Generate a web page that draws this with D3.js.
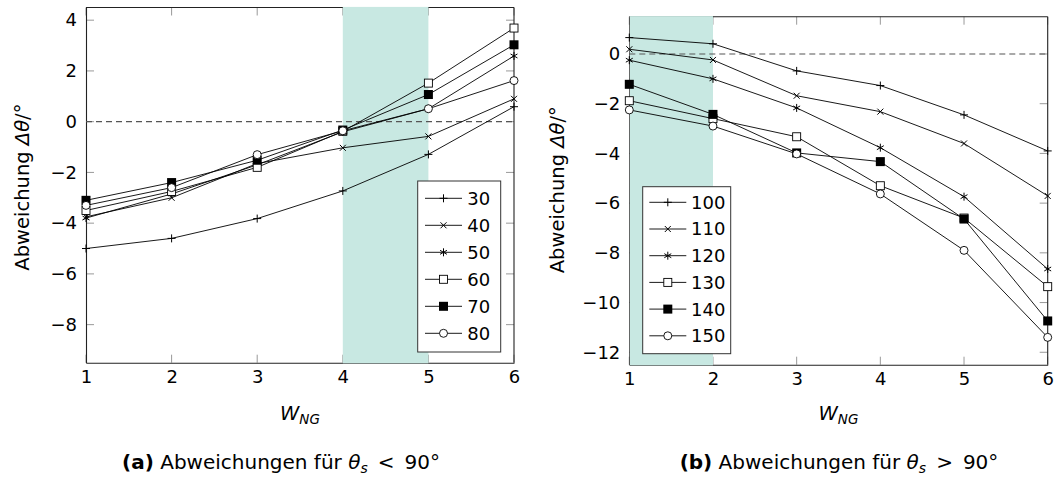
<!DOCTYPE html>
<html><head><meta charset="utf-8">
<script src="https://cdn.jsdelivr.net/npm/d3@7"></script>
<style>
body{margin:0;background:#fff;}
svg text{font-family:"DejaVu Sans",sans-serif;fill:#000;}
</style></head>
<body><svg id="chart" width="1054" height="477"></svg>
<script>
// ---- data ----
const xValues = [1, 2, 3, 4, 5, 6];
const xTicks = [1, 2, 3, 4, 5, 6];
const leftYTicks = [-8, -6, -4, -2, 0, 2, 4];
const rightYTicks = [-12, -10, -8, -6, -4, -2, 0];
const leftNames = ["30", "40", "50", "60", "70", "80"];
const rightNames = ["100", "110", "120", "130", "140", "150"];
const markerTypes = ["plus", "cross", "asterisk", "square", "squareFilled", "circle"];

const left30 = [-5.0, -4.6, -3.82, -2.73, -1.29, 0.59];
const left40 = [-3.75, -3.0, -1.65, -1.03, -0.58, 0.9];
const left50 = [-3.8, -2.85, -1.7, -0.4, 0.51, 2.59];
const left60 = [-3.5, -2.75, -1.8, -0.38, 1.52, 3.69];
const left70 = [-3.1, -2.4, -1.52, -0.33, 1.07, 3.03];
const left80 = [-3.3, -2.6, -1.3, -0.36, 0.51, 1.62];

const right100 = [0.66, 0.41, -0.68, -1.27, -2.45, -3.9];
const right110 = [0.19, -0.24, -1.68, -2.32, -3.6, -5.71];
const right120 = [-0.25, -1.0, -2.17, -3.77, -5.74, -8.65];
const right130 = [-1.88, -2.6, -3.33, -5.3, -6.6, -9.36];
const right140 = [-1.22, -2.43, -3.98, -4.33, -6.64, -10.74];
const right150 = [-2.25, -2.9, -4.02, -5.63, -7.9, -11.4];

const leftShade = [4, 5];
const rightShade = [1, 2];

// ---- drawing ----
const svg = d3.select("#chart");
const FS = 18;
const LABEL_FS = 19.5;

function drawMarker(g, type, x, y) {
  const s = 4;
  if (type === "plus") {
    g.append("path").attr("d", `M${x-s},${y}H${x+s}M${x},${y-s}V${y+s}`).attr("stroke", "#000").attr("stroke-width", 1);
  } else if (type === "cross") {
    const c = 3;
    g.append("path").attr("d", `M${x-c},${y-c}L${x+c},${y+c}M${x-c},${y+c}L${x+c},${y-c}`).attr("stroke", "#000").attr("stroke-width", 1);
  } else if (type === "asterisk") {
    const a = 4, dx = a * Math.cos(Math.PI / 6), dy = a * Math.sin(Math.PI / 6);
    g.append("path").attr("d", `M${x},${y-a}V${y+a}M${x-dx},${y-dy}L${x+dx},${y+dy}M${x-dx},${y+dy}L${x+dx},${y-dy}`).attr("stroke", "#000").attr("stroke-width", 1);
  } else if (type === "square") {
    g.append("rect").attr("x", x - 4).attr("y", y - 4).attr("width", 8).attr("height", 8).attr("fill", "#fff").attr("stroke", "#000").attr("stroke-width", 0.9);
  } else if (type === "squareFilled") {
    g.append("rect").attr("x", x - 4.5).attr("y", y - 4.5).attr("width", 9).attr("height", 9).attr("fill", "#000");
  } else if (type === "circle") {
    g.append("circle").attr("cx", x).attr("cy", y).attr("r", 4).attr("fill", "#fff").attr("stroke", "#000").attr("stroke-width", 0.9);
  }
}

function panel(cfg) {
  const x = d3.scaleLinear().domain([1, 6]).range([cfg.x0, cfg.x1]);
  const y = d3.scaleLinear().domain(cfg.yDomain).range([cfg.y1, cfg.y0]);
  const g = svg.append("g");
  const tickLen = 8;
  const tg = g.append("g").attr("stroke", "#999").attr("stroke-width", 1);
  xTicks.forEach(t => {
    tg.append("line").attr("x1", x(t)).attr("x2", x(t)).attr("y1", cfg.y1).attr("y2", cfg.y1 - tickLen);
    tg.append("line").attr("x1", x(t)).attr("x2", x(t)).attr("y1", cfg.y0).attr("y2", cfg.y0 + tickLen);
  });
  cfg.yTicks.forEach(t => {
    tg.append("line").attr("x1", cfg.x0).attr("x2", cfg.x0 + tickLen).attr("y1", y(t)).attr("y2", y(t));
    tg.append("line").attr("x1", cfg.x1).attr("x2", cfg.x1 - tickLen).attr("y1", y(t)).attr("y2", y(t));
  });
  const bottomAxis = d3.axisBottom(x).tickValues(xTicks).tickSize(0).tickPadding(8).tickFormat(d3.format("d"));
  const leftAxis = d3.axisLeft(y).tickValues(cfg.yTicks).tickSize(0).tickPadding(9)
    .tickFormat(d => d < 0 ? "\u2212" + Math.abs(d) : String(d));
  const ba = g.append("g").attr("transform", `translate(0,${cfg.y1})`).call(bottomAxis);
  const la = g.append("g").attr("transform", `translate(${cfg.x0},0)`).call(leftAxis);
  [ba, la].forEach(a => {
    a.select(".domain").attr("stroke", "#222").attr("stroke-width", 1.1);
    a.selectAll("text").attr("font-size", FS).attr("font-family", "DejaVu Sans").attr("fill", "#000");
  });
  g.append("line").attr("x1", cfg.x0).attr("x2", cfg.x1).attr("y1", cfg.y0).attr("y2", cfg.y0).attr("stroke", "#222").attr("stroke-width", 1.1);
  g.append("line").attr("x1", cfg.x1).attr("x2", cfg.x1).attr("y1", cfg.y0).attr("y2", cfg.y1).attr("stroke", "#222").attr("stroke-width", 1.1);
  const sx0 = x(cfg.shade[0]) + (cfg.shade[0] === 1 ? 0.6 : 0);
  g.append("rect").attr("x", sx0).attr("y", cfg.y0 - 0.6).attr("width", x(cfg.shade[1]) - sx0).attr("height", cfg.y1 - cfg.y0 + 1.2)
    .attr("fill", "#c8e8e2");
  g.append("line").attr("x1", cfg.x0).attr("x2", cfg.x1).attr("y1", y(0)).attr("y2", y(0))
    .attr("stroke", "#555").attr("stroke-width", 1.1).attr("stroke-dasharray", "6,4");
  const line = d3.line().x((d, i) => x(xValues[i])).y(d => y(d));
  cfg.series.forEach((s) => {
    g.append("path").datum(s).attr("d", line).attr("fill", "none").attr("stroke", "#000").attr("stroke-width", 0.9);
  });
  cfg.series.forEach((s, k) => {
    const mg = g.append("g");
    s.forEach((v, i) => drawMarker(mg, markerTypes[k], x(xValues[i]), y(v)));
  });
  const L = cfg.legend;
  const lg = g.append("g");
  lg.append("rect").attr("x", L.x).attr("y", L.y).attr("width", L.w).attr("height", L.h)
    .attr("fill", "#fff").attr("stroke", "#333").attr("stroke-width", 1);
  cfg.names.forEach((n, k) => {
    const cy = L.y + L.first + k * L.step;
    lg.append("line").attr("x1", L.x + L.lx0).attr("x2", L.x + L.lx0 + 37).attr("y1", cy).attr("y2", cy).attr("stroke", "#000").attr("stroke-width", 0.9);
    drawMarker(lg, markerTypes[k], L.x + L.lx0 + 18.5, cy);
    lg.append("text").attr("x", L.x + L.tx).attr("y", cy).attr("dy", "0.36em").attr("font-size", FS).text(n);
  });
  const yl = g.append("text").attr("transform", `translate(${cfg.ylabX},${(cfg.y0 + cfg.y1) / 2 + cfg.ylabDy}) rotate(-90)`)
    .attr("text-anchor", "middle").attr("font-size", LABEL_FS);
  yl.append("tspan").text("Abweichung ");
  yl.append("tspan").attr("font-style", "italic").text("\u0394\u03B8");
  yl.append("tspan").text("/°");
  const xl = g.append("text").attr("x", (cfg.x0 + cfg.x1) / 2).attr("y", 420).attr("text-anchor", "middle").attr("font-size", LABEL_FS).attr("font-style", "italic");
  xl.append("tspan").text("W");
  xl.append("tspan").attr("font-size", 13.5).attr("dy", 4).text("NG");
  const cap = g.append("text").attr("x", cfg.capX).attr("y", 469).attr("text-anchor", "middle").attr("font-size", 20);
  cap.append("tspan").attr("font-weight", "bold").text(cfg.capTag);
  cap.append("tspan").text(" Abweichungen für ");
  cap.append("tspan").attr("font-style", "italic").text("\u03B8");
  cap.append("tspan").attr("font-style", "italic").attr("font-size", 14).attr("dy", 4).text("s");
  cap.append("tspan").attr("dy", -4).text("\u2002" + cfg.capRel + "\u2002" + "90°");
}

panel({
  x0: 86, x1: 514, y0: 7.5, y1: 362.7, yDomain: [-9.5, 4.5], yTicks: leftYTicks,
  shade: leftShade, series: [left30, left40, left50, left60, left70, left80], names: leftNames,
  legend: {x: 417.7, y: 181, w: 83, h: 171, first: 17.3, step: 27, lx0: 7.3, tx: 49.6},
  ylabX: 28.5, ylabDy: 2, capX: 281, capTag: "(a)", capRel: "<"
});
panel({
  x0: 629.3, x1: 1047.7, y0: 16.7, y1: 364.7, yDomain: [-12.5, 1.5], yTicks: rightYTicks,
  shade: rightShade, series: [right100, right110, right120, right130, right140, right150], names: rightNames,
  legend: {x: 642.7, y: 186.7, w: 88, h: 167, first: 15.6, step: 26.7, lx0: 6.6, tx: 48.3},
  ylabX: 563.5, ylabDy: -1, capX: 839, capTag: "(b)", capRel: ">"
});
</script>
</body></html>
